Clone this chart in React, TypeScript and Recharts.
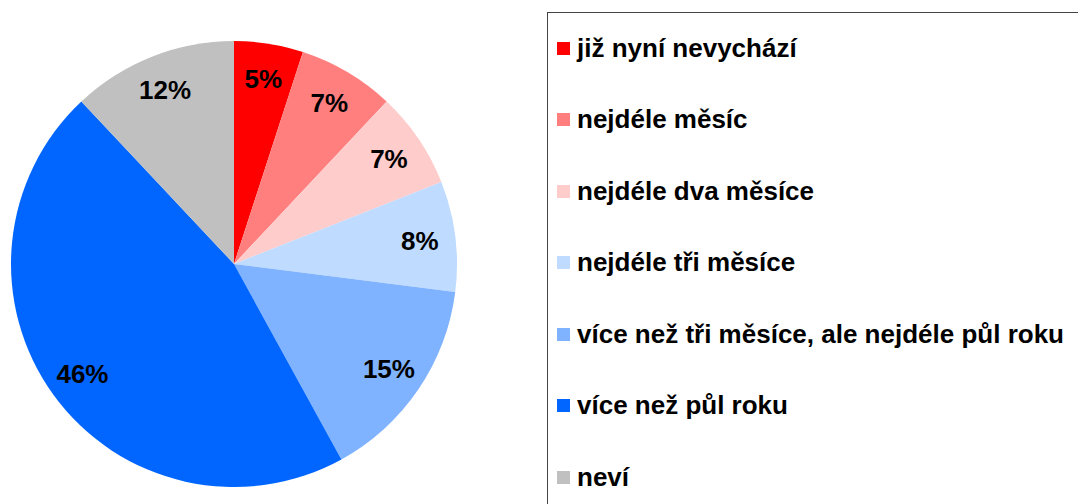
import { PieChart, Pie, Cell, Legend } from 'recharts';

const categories = [
  'již nyní nevychází',
  'nejdéle měsíc',
  'nejdéle dva měsíce',
  'nejdéle tři měsíce',
  'více než tři měsíce, ale nejdéle půl roku',
  'více než půl roku',
  'neví',
];
const values = [5, 7, 7, 8, 15, 46, 12];
const colors = ['#FF0000', '#FF7F7F', '#FFCCCC', '#BFDBFF', '#7FB2FF', '#0066FF', '#C0C0C0'];

const data = categories.map((name, i) => ({ name, value: values[i], color: colors[i] }));

const FONT = '"Liberation Sans", Arial, sans-serif';
const RAD = Math.PI / 180;

const renderLabel = (props: any) => {
  const { cx, cy, midAngle, outerRadius, percent } = props;
  const r = outerRadius * 0.84;
  const x = cx + r * Math.cos(-midAngle * RAD);
  const y = cy + r * Math.sin(-midAngle * RAD);
  return (
    <text
      x={x}
      y={y}
      textAnchor="middle"
      dominantBaseline="central"
      fontFamily={FONT}
      fontWeight="bold"
      fontSize={26}
      fill="#000"
    >
      {Math.round(percent * 100)}%
    </text>
  );
};

const LegendBox = () => (
  <div
    style={{
      border: '1px solid #444',
      width: 560,
      height: 520,
      boxSizing: 'border-box',
      paddingTop: 20,
      fontFamily: FONT,
    }}
  >
    {data.map((d) => (
      <div key={d.name} style={{ height: 71.5, display: 'flex', alignItems: 'flex-start' }}>
        <div style={{ display: 'flex', alignItems: 'center', height: 30 }}>
          <span
            style={{
              display: 'inline-block',
              width: 13,
              height: 13,
              background: d.color,
              marginLeft: 9,
              marginRight: 7,
            }}
          />
          <span style={{ fontSize: 26, fontWeight: 'bold', color: '#000', whiteSpace: 'nowrap' }}>
            {d.name}
          </span>
        </div>
      </div>
    ))}
  </div>
);

export default function App() {
  return (
    <div style={{ position: 'absolute', left: 0, top: 0, width: 1078, height: 504, overflow: 'hidden', background: '#fff' }}>
      <PieChart width={1078} height={504} margin={{ top: 0, right: 0, bottom: 0, left: 0 }}>
        <Pie
          data={data}
          dataKey="value"
          nameKey="name"
          cx={234}
          cy={264}
          outerRadius={223}
          startAngle={90}
          endAngle={-270}
          stroke="none"
          label={renderLabel}
          labelLine={false}
          isAnimationActive={false}
        >
          {data.map((d, i) => (
            <Cell key={i} fill={d.color} />
          ))}
        </Pie>
        <Legend
          content={<LegendBox />}
          wrapperStyle={{ position: 'absolute', left: 547, top: 12, width: 560, height: 520 }}
        />
      </PieChart>
    </div>
  );
}
